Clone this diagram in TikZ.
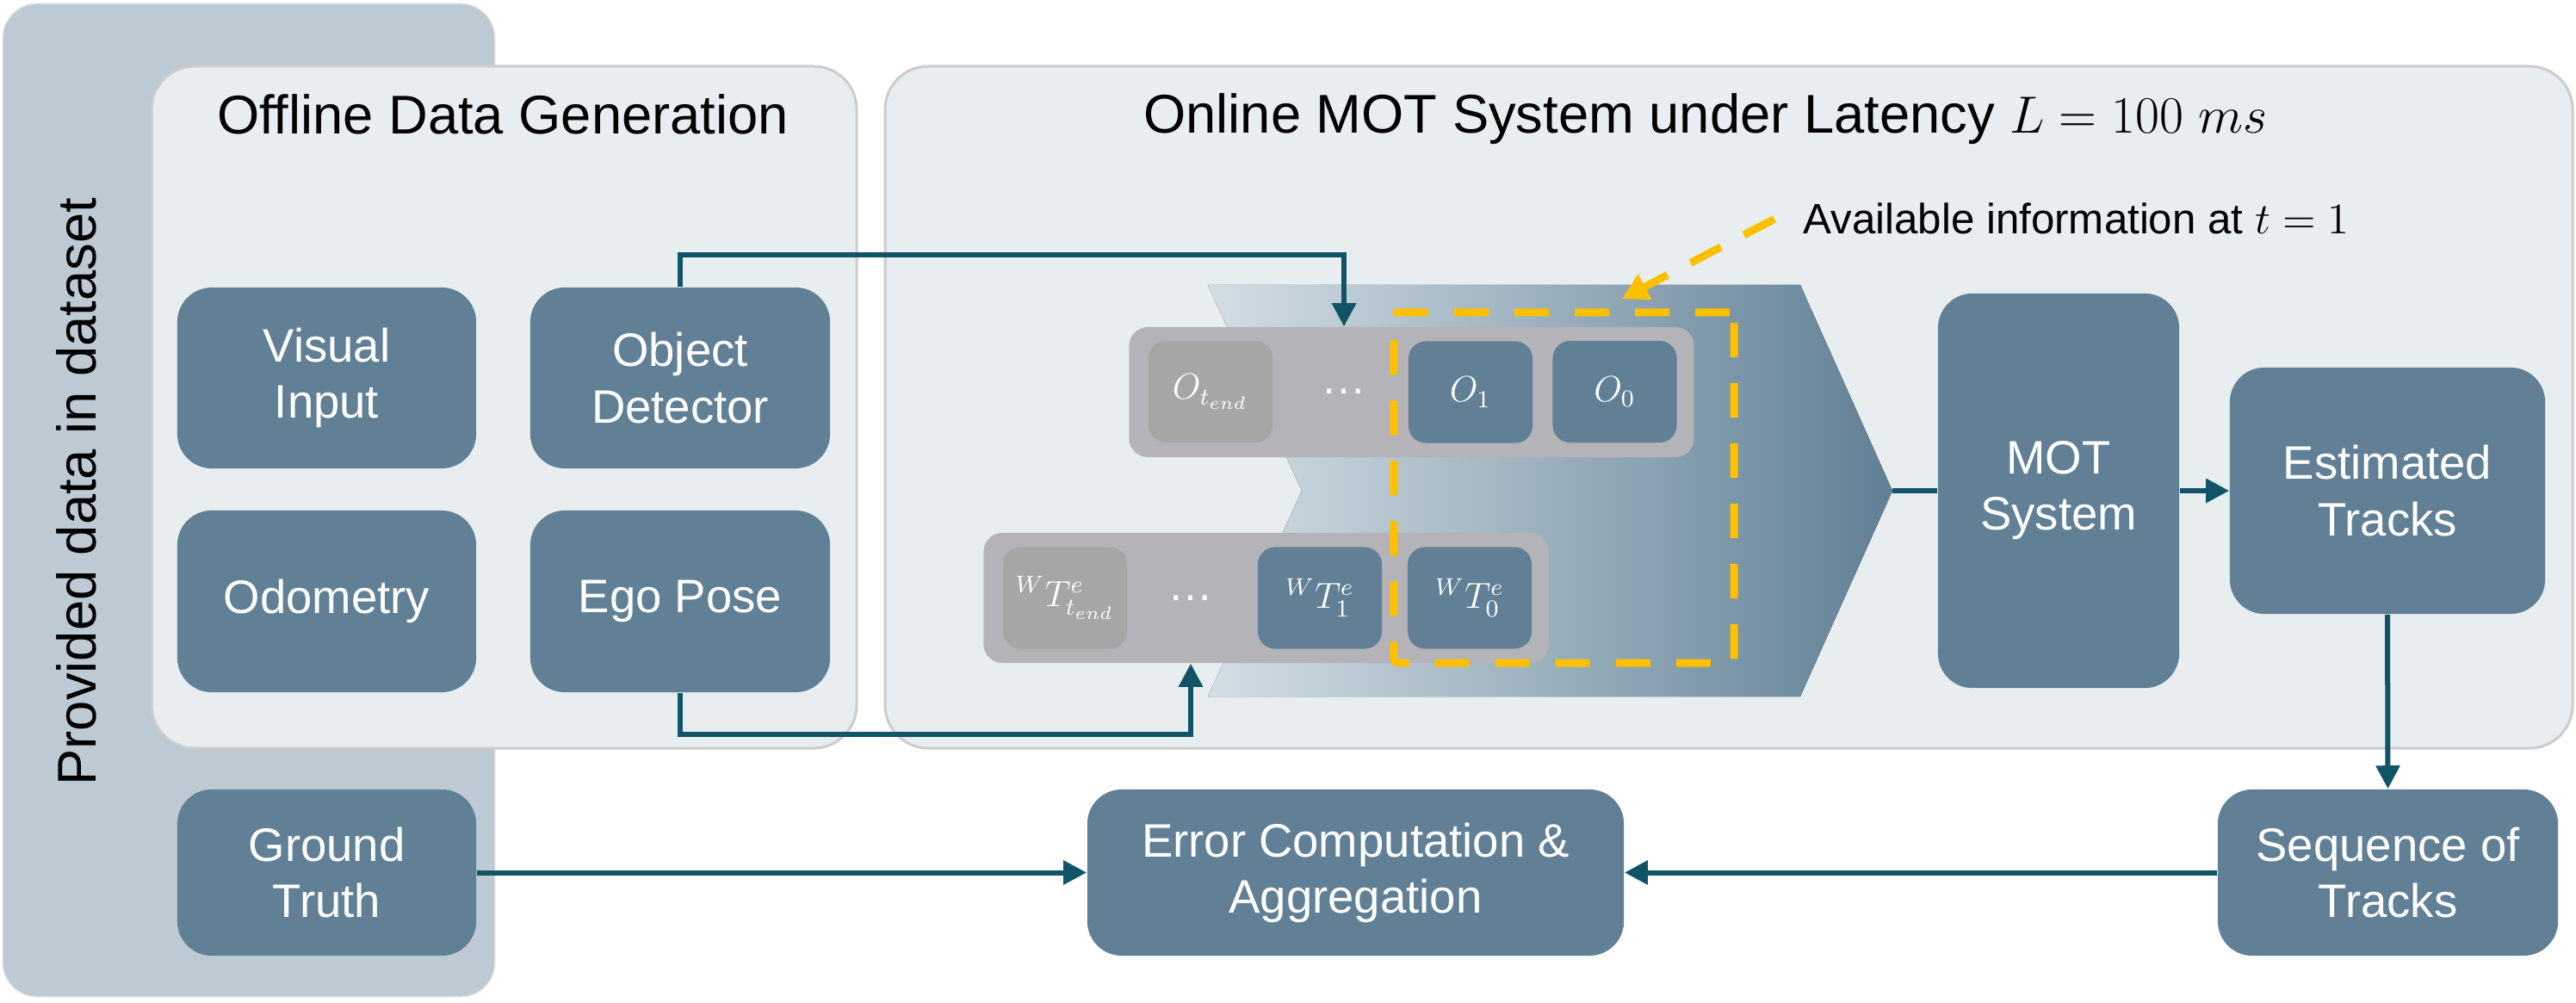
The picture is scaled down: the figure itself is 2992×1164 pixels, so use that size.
\documentclass[tikz,border=0pt]{standalone}
\usepackage{fontspec}
\setmainfont{Liberation Sans}
\usetikzlibrary{arrows.meta,calc}

\definecolor{boxblue}{RGB}{97,128,149}
\definecolor{cellgray}{RGB}{166,166,166}
\definecolor{rowgray}{RGB}{179,179,184}
\definecolor{panelbg}{RGB}{232,237,240}
\definecolor{outerbg}{RGB}{189,202,212}
\definecolor{linkteal}{RGB}{17,84,104}
\definecolor{infoyellow}{RGB}{255,192,0}
\definecolor{chevlight}{RGB}{211,222,228}
\definecolor{chevdark}{RGB}{97,128,149}

\tikzset{
	block/.style={rectangle, rounded corners=0.4cm, fill=boxblue, text=white, align=center, inner sep=0pt, font=\fontsize{15.5}{18.5}\selectfont},
	slot/.style={rectangle, rounded corners=0.2cm, fill=boxblue, text=white, inner sep=0pt, minimum width=1.44cm, minimum height=1.18cm, font=\fontsize{11.5}{13}\selectfont},
	oldslot/.style={slot, fill=cellgray},
	cellrow/.style={rectangle, rounded corners=0.22cm, fill=rowgray, inner sep=0pt, minimum width=6.56cm, minimum height=1.51cm},
	gap/.style={text=white, inner sep=0pt, font=\fontsize{15}{16}\selectfont},
	panel/.style={fill=panelbg, draw=black!20, line width=0.03cm, rounded corners=0.5cm},
	conn/.style={draw=linkteal, line width=0.06cm},
	connarr/.style={conn, -{Triangle[length=0.27cm,width=0.27cm]}},
	availbox/.style={draw=infoyellow, line width=0.09cm, dash pattern=on 0.4cm off 0.3cm},
	hint/.style={availbox, -{Triangle[length=0.3cm,width=0.32cm]}},
}

\begin{document}
\begin{tikzpicture}[x=0.01cm, y=-0.01cm]
			%%%%% START %%%%%
			\useasboundingbox (0,0) rectangle (2992,1164);
			
			\draw[fill=outerbg, draw=black!8, rounded corners=0.4cm] (3,4) rectangle (575,1158);
			\node[rotate=90, anchor=base, font=\fontsize{18}{21}\selectfont] (provided) at (111,571) {Provided data in dataset};
			
			\draw[panel] (176,77) rectangle (995,869);
			\draw[panel] (1028,77) rectangle (2988,869);
			\node[anchor=base, font=\fontsize{18}{21}\selectfont] (offtitle) at (584,156) {Offline Data Generation};
			\node[anchor=base, font=\fontsize{18}{21}\selectfont] (ontitle) at (1981,155) {Online MOT System under Latency $L = 100\ ms$};
			
			\fill[left color=chevlight, right color=chevdark] (1403,331) -- (2091,331) -- (2198,570) -- (2091,809) -- (1403,809) -- (1512,570) -- cycle;
			\coordinate (chevtip) at (2198,570);
			
			\node[cellrow] (orow) at (1639.5,455.5) {};
			\node[oldslot] (oend) at (1406,455) {$O_{t_{end}}$};
			\node[gap] (odots) at (1561,455) {\ldots};
			\node[slot] (o1) at (1708,455.5) {$O_1$};
			\node[slot] (o0) at (1875.5,455) {$O_0$};
			
			\node[cellrow] (trow) at (1470.5,694.5) {};
			\node[oldslot] (tend) at (1237,694.5) {${}^{W}T^{e}_{t_{end}}$};
			\node[gap] (tdots) at (1383,694.5) {\ldots};
			\node[slot] (t1) at (1533,694.5) {${}^{W}T^{e}_{1}$};
			\node[slot] (t0) at (1707,694.5) {${}^{W}T^{e}_{0}$};
			
			\node[block, minimum width=3.47cm, minimum height=2.10cm] (vis) at (379.5,439) {Visual\\Input};
			\node[block, minimum width=3.48cm, minimum height=2.10cm] (objdet) at (790,439) {Object\\Detector};
			\node[block, minimum width=3.47cm, minimum height=2.11cm] (odo) at (379.5,698.5) {Odometry};
			\node[block, minimum width=3.48cm, minimum height=2.11cm] (ego) at (790,698.5) {Ego Pose};
			\node[block, minimum width=3.47cm, minimum height=1.93cm] (gt) at (379.5,1013.5) {Ground\\Truth};
			\node[block, minimum width=6.23cm, minimum height=1.93cm] (err) at (1574.5,1013.5) {Error Computation \&\\Aggregation};
			\node[block, minimum width=3.95cm, minimum height=1.93cm] (seq) at (2773.5,1013.5) {Sequence of\\Tracks};
			\node[block, minimum width=2.80cm, minimum height=4.58cm] (mot) at (2391,570) {MOT\\System};
			\node[block, minimum width=3.66cm, minimum height=2.86cm] (est) at (2773,570) {Estimated\\Tracks};
			
			\draw[connarr] (objdet.north) -- ++(0,-37) -| (odots |- orow.north);
			\draw[connarr] (ego.south) -- ++(0,48) -| (tdots |- trow.south);
			\draw[conn] (chevtip) -- (mot.west);
			\draw[connarr] (mot.east) -- (est.west);
			\draw[connarr] (est.south) -- (seq.north);
			\draw[connarr] (gt.east) -- (err.west);
			\draw[connarr] (seq.west) -- (err.east);
			
			\node[availbox, rounded corners=0.05cm, inner sep=0pt, minimum width=3.95cm, minimum height=4.07cm] (win) at (1816.5,566.5) {};
			\node[anchor=base west, inner sep=0pt, font=\fontsize{14}{16}\selectfont] (avail) at (2094,272) {Available information at $t = 1$};
			\coordinate (hinttip) at (1884,347);
			\draw[hint] ([xshift=-0.33cm]avail.west) -- (hinttip);
			
			%%%%% END %%%%%
\end{tikzpicture}
\end{document}
